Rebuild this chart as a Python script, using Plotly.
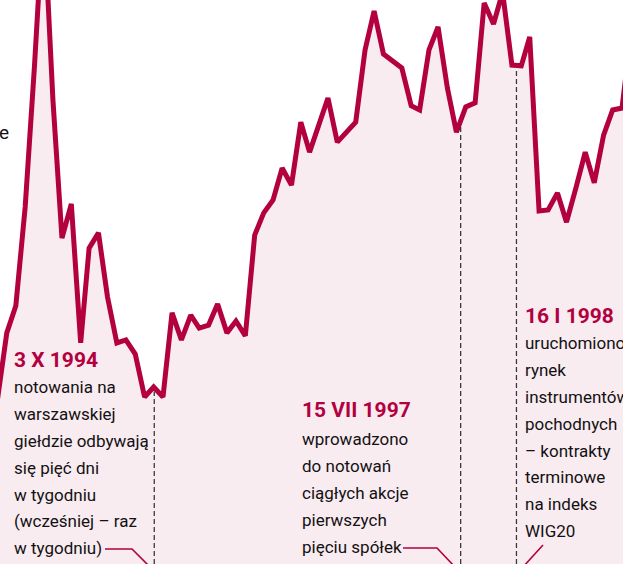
import numpy as np
import pandas as pd
import plotly.graph_objects as go

# Monthly index readings (first of each month), May 1993 - Feb 1999
months = pd.date_range("1993-05-01", "1999-02-01", freq="MS")
index_values = [
    7430, 9240, 9970, 12640, 16470, 20660, 15530, 11800, 12720, 8970,
    11530, 11940, 10210, 8970, 9050, 8670, 7510, 7780,
    7510, 9780, 9050, 9720, 9370, 9450, 10020, 9240, 9560, 9160,
    11880, 12480, 12830, 13690, 13230, 14930, 14120, 14830, 15580, 14390,
    14640, 14930, 16880, 17930, 16770, 16580, 16390, 15370, 15260, 16880,
    17500, 15850, 14660, 15340, 15450, 18150, 17580, 18440, 16470, 16450,
    17230, 12530, 12560, 13020, 12230, 13150, 14120, 13290, 14580, 15260,
    15310, 17420,
]

# Milestones marked on the chart
event_dates = ["1994-10-03", "1997-07-15", "1998-01-16"]
event_titles = ["3 X 1994", "15 VII 1997", "16 I 1998"]
event_texts = [
    ["notowania na", "warszawskiej", "giełdzie odbywają", "się pięć dni",
     "w tygodniu", "(wcześniej – raz", "w tygodniu)"],
    ["wprowadzono", "do notowań", "ciągłych akcje", "pierwszych", "pięciu spółek"],
    ["uruchomiono", "rynek", "instrumentów", "pochodnych", "– kontrakty",
     "terminowe", "na indeks", "WIG20"],
]

W, H = 623, 564
RED = "#b3003f"
FILL = "#f8ecf1"
INK = "#141112"
FONT = "Roboto, Liberation Sans, sans-serif"
BODY_SIZE = 17
TITLE_SIZE = 21

# visible window
t_a, t_b = pd.Timestamp("1994-11-01"), pd.Timestamp("1999-01-01")
px_per_day = 459.0 / (t_b - t_a).days
x_lo = t_a - pd.Timedelta(days=163 / px_per_day)
x_hi = t_b + pd.Timedelta(days=1 / px_per_day)
y_lo, y_hi = 3000, 3000 + 564 * 27

fig = go.Figure()
fig.add_trace(go.Scatter(
    x=months, y=index_values, mode="lines",
    line=dict(color=RED, width=5),
    fill="tozeroy", fillcolor=FILL,
    hoverinfo="skip", showlegend=False,
))

# dashed drop lines from the curve down to the captions
t_num = months.asi8.astype(float)
units_per_px = (y_hi - y_lo) / H
for d in event_dates:
    v = float(np.interp(pd.Timestamp(d).value, t_num, index_values))
    fig.add_shape(type="line", xref="x", yref="y",
                  x0=d, x1=d, y0=y_lo, y1=v - 4 * units_per_px,
                  line=dict(color="#3a3a3a", width=1.3, dash="5px,3px"),
                  layer="above")


def px(x):
    return x / W


def py(y):
    return 1 - y / H


def text_line(s, x, base, size, color, bold=False):
    fig.add_annotation(
        xref="paper", yref="paper", x=px(x), y=py(base - 0.3 * size),
        xanchor="left", yanchor="middle", showarrow=False,
        text=f"<b>{s}</b>" if bold else s,
        font=dict(family=FONT, size=size, color=color),
        borderpad=0,
    )


# caption blocks: left edge, title baseline, first body baseline
blocks = [(13, 366, 392), (301, 416, 444), (524, 322, 348)]
for (x0, tb, bb), title, lines in zip(blocks, event_titles, event_texts):
    text_line(title, x0, tb, TITLE_SIZE, RED, bold=True)
    for i, s in enumerate(lines):
        text_line(s, x0, bb + 26.9 * i, BODY_SIZE, INK)

# fragment of a label running in from the left
fig.add_annotation(xref="paper", yref="paper", x=px(10), y=py(132),
                   xanchor="right", yanchor="middle", showarrow=False,
                   text="e", font=dict(family=FONT, size=BODY_SIZE + 2, color=INK),
                   borderpad=0)

# leader lines from the captions
for pts in ([(105, 549), (132, 549), (150, 567)],
            [(403, 548), (437, 548), (455, 567)],
            [(543, 545), (523, 567)]):
    path = "M " + " L ".join(f"{px(a)},{py(b)}" for a, b in pts)
    fig.add_shape(type="path", xref="paper", yref="paper", path=path,
                  line=dict(color=RED, width=1.6))

fig.update_layout(
    width=W, height=H, margin=dict(l=0, r=0, t=0, b=0),
    paper_bgcolor="white", plot_bgcolor="white",
    xaxis=dict(range=[x_lo, x_hi], visible=False, fixedrange=True),
    yaxis=dict(range=[y_lo, y_hi], visible=False, fixedrange=True),
)

fig.write_html("out.html")
